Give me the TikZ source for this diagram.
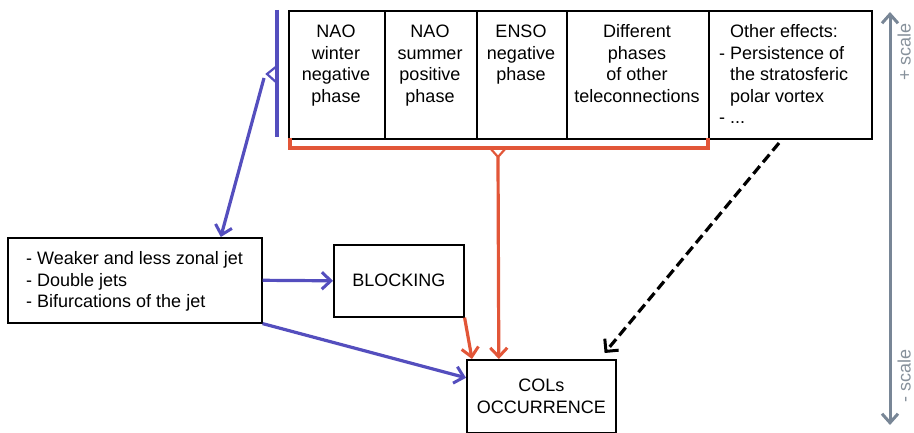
\documentclass[tikz,border=0pt]{standalone}
\usepackage{fontspec}
\setmainfont{Liberation Sans}
\usetikzlibrary{arrows.meta}
\definecolor{jblue}{RGB}{84,78,190}
\definecolor{jred}{RGB}{226,86,56}
\definecolor{jgray}{RGB}{120,134,150}
\definecolor{jtgray}{RGB}{135,145,155}
\begin{document}
\begin{tikzpicture}[x=1pt,y=-1pt,
  box/.style={draw=black,line width=1.6pt,rectangle,inner sep=0pt},
  txt/.style={font=\fontsize{18}{21.6}\selectfont,inner sep=0pt},
  barb/.style={-{Straight Barb[length=9pt,width=17pt,line width=3pt]}},
  bluel/.style={draw=jblue,line width=3.2pt},
  redl/.style={draw=jred,line width=3.2pt},
  dashl/.style={draw=black,line width=3.2pt,dash pattern=on 10pt off 5pt}]
\useasboundingbox (0,0) rectangle (914,433);
% top boxes
\node[box,anchor=north west,minimum width=96pt,minimum height=128pt] (b1) at (288,10) {};
\node[box,anchor=north west,minimum width=92pt,minimum height=128pt] (b2) at (384,10) {};
\node[box,anchor=north west,minimum width=90pt,minimum height=128pt] (b3) at (476,10) {};
\node[box,anchor=north west,minimum width=142pt,minimum height=128pt] (b4) at (566,10) {};
\node[box,anchor=north west,minimum width=163pt,minimum height=128pt] (b5) at (708,10) {};
\node[txt,align=center,anchor=base] (t1) at (336,102.3) {NAO\\winter\\negative\\phase};
\node[txt,align=center,anchor=base] (t2) at (430,102.3) {NAO\\summer\\positive\\phase};
\node[txt,align=center,anchor=base] (t3) at (521,80.7) {ENSO\\negative\\phase};
\node[txt,align=center,anchor=base] (t4) at (637,102.3) {Different\\phases\\of other\\teleconnections};
\node[txt,align=left,anchor=base west] (t5) at (719,123.9) {\phantom{- }Other effects:\\- Persistence of\\\phantom{- }the stratosferic\\\phantom{- }polar vortex\\- ...};
% lower boxes
\node[box,anchor=north west,minimum width=254pt,minimum height=85pt] (jet) at (7,237) {};
\node[txt,align=left,anchor=base west] (jtxt) at (26,307.7) {- Weaker and less zonal jet\\- Double jets\\- Bifurcations of the jet};
\node[box,txt,anchor=north west,minimum width=130pt,minimum height=72pt,line width=1.6pt] (block) at (333,244) {BLOCKING};
\node[box,txt,align=center,anchor=north west,minimum width=149pt,minimum height=73pt,line width=1.6pt] (col) at (466,359) {COLs\\OCCURRENCE};
% blue bracket
\draw[bluel] (277,10) -- (277,137);
\draw[jblue,line width=2.2pt,line join=miter] (277,66) -- (267,74) -- (277,83);
\coordinate (bh) at (264,78);
\draw[bluel,barb] (bh) -- ([xshift=86pt]jet.north);
\draw[bluel,barb] (jet.east) -- (block.west);
\draw[bluel,barb] (jet.south east) -- ([yshift=18.5pt]col.west);
% red bracket
\draw[redl] (290,138) -- (290,148) -- (708,148) -- (708,138);
\draw[jred,line width=2.2pt,line join=miter] (490,148) -- (498,157) -- (506,148);
\coordinate (rh) at (498,157);
\draw[redl,barb] (rh) -- ([xshift=-42.5pt]col.north);
\draw[redl,barb] (block.south east) -- ([xshift=6pt]col.north west);
% dashed
\coordinate (dstart) at (779,143);
\draw[dashl,-{Straight Barb[length=9pt,width=18pt,line width=3pt]}] (dstart) -- ([xshift=-12pt,yshift=6pt]col.north east);
% scale
\coordinate (stop) at (890,12);
\coordinate (sbot) at (890,425);
\draw[draw=jgray,line width=3pt,{Straight Barb[length=9pt,width=16pt,line width=3pt]}-{Straight Barb[length=9pt,width=16pt,line width=3pt]}] (stop) -- (sbot);
\node[txt,text=jtgray,rotate=90,anchor=base] (plus) at (910.5,52) {+ scale};
\node[txt,text=jtgray,rotate=90,anchor=base] (minus) at (910.5,376) {- scale};
\end{tikzpicture}
\end{document}
